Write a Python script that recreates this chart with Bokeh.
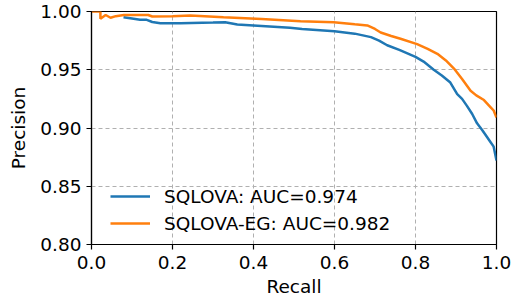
from bokeh.plotting import figure
from bokeh.models import Range1d, Legend, LegendItem, FixedTicker
from bokeh.embed import file_html
from bokeh.resources import INLINE

# SQLOVA
recall_a = [0.079, 0.10, 0.12, 0.135, 0.15, 0.17, 0.22, 0.30, 0.33, 0.36, 0.42, 0.49, 0.52,
            0.60, 0.65, 0.69, 0.71, 0.73, 0.76, 0.80, 0.82, 0.845, 0.865, 0.886, 0.903,
            0.915, 0.927, 0.94, 0.952, 0.965, 0.977, 0.985, 0.993, 1.0]
prec_a = [0.995, 0.994, 0.993, 0.993, 0.991, 0.990, 0.990, 0.9905, 0.9908, 0.9888, 0.9875,
          0.986, 0.985, 0.983, 0.981, 0.978, 0.975, 0.971, 0.967, 0.961, 0.957, 0.950, 0.945,
          0.939, 0.929, 0.925, 0.919, 0.912, 0.904, 0.898, 0.892, 0.888, 0.884, 0.872]

# SQLOVA-EG
recall_b = [0.0, 0.022, 0.022, 0.035, 0.047, 0.06, 0.08, 0.14, 0.15, 0.20, 0.244, 0.326, 0.42,
            0.516, 0.598, 0.65, 0.681, 0.70, 0.714, 0.74, 0.763, 0.804, 0.83, 0.854, 0.875,
            0.895, 0.915, 0.936, 0.95, 0.969, 0.985, 0.993, 1.0]
prec_b = [1.0, 1.0, 0.9937, 0.997, 0.9946, 0.996, 0.997, 0.997, 0.9957, 0.996, 0.9966, 0.995,
          0.9935, 0.9917, 0.9908, 0.989, 0.988, 0.985, 0.982, 0.979, 0.9766, 0.972, 0.968,
          0.9637, 0.958, 0.951, 0.942, 0.932, 0.928, 0.924, 0.918, 0.915, 0.909]

labels = ["SQLOVA: AUC=0.974", "SQLOVA-EG: AUC=0.982"]
x_ticks = [0.0, 0.2, 0.4, 0.6, 0.8, 1.0]
y_ticks = [0.80, 0.85, 0.90, 0.95, 1.00]

FONT = "DejaVu Sans"
FS = "18.5px"

p = figure(width=511, height=304, output_backend="svg", toolbar_location=None,
           x_range=Range1d(0, 1), y_range=Range1d(0.8, 1.0),
           min_border_left=91, min_border_right=15, min_border_top=11, min_border_bottom=60)

r1 = p.line(recall_a, prec_a, line_color="#1f77b4", line_width=2.5)
r2 = p.line(recall_b, prec_b, line_color="#ff7f0e", line_width=2.5)

p.xaxis.ticker = FixedTicker(ticks=x_ticks)
p.yaxis.ticker = FixedTicker(ticks=y_ticks)
p.xaxis.major_label_overrides = {t: f"{t:.1f}" for t in x_ticks}
p.yaxis.major_label_overrides = {t: f"{t:.2f}" for t in y_ticks}
for ax in (p.xaxis, p.yaxis):
    ax.minor_tick_line_color = None
    ax.major_tick_out = 5
    ax.major_tick_in = 0
    ax.axis_line_color = "black"
    ax.axis_line_width = 1.2
    ax.major_tick_line_color = "black"
    ax.major_tick_line_width = 1.2
    ax.major_label_text_font = FONT
    ax.major_label_text_font_size = FS
    ax.major_label_text_color = "black"
    ax.axis_label_text_font = FONT
    ax.axis_label_text_font_size = FS
    ax.axis_label_text_font_style = "normal"
    ax.axis_label_text_color = "black"
p.xaxis.axis_label = "Recall"
p.yaxis.axis_label = "Precision"
p.xaxis.major_label_standoff = 6
p.yaxis.major_label_standoff = 5
p.xaxis.axis_label_standoff = 4
p.yaxis.axis_label_standoff = 8

p.grid.grid_line_color = "#b0b0b0"
p.grid.grid_line_dash = "4 3"
p.grid.grid_line_width = 1

p.outline_line_color = "black"
p.outline_line_width = 1.2
p.outline_line_alpha = 1

legend = Legend(items=[LegendItem(label=labels[0], renderers=[r1]),
                       LegendItem(label=labels[1], renderers=[r2])],
                location=(19, 9), padding=0, margin=0, spacing=3,
                glyph_width=40, glyph_height=24, label_height=24, label_standoff=14,
                border_line_color=None, background_fill_alpha=0,
                label_text_font=FONT, label_text_font_size=FS,
                label_text_color="black")
p.add_layout(legend, "center")

open("out.html", "w").write(file_html(p, INLINE))
